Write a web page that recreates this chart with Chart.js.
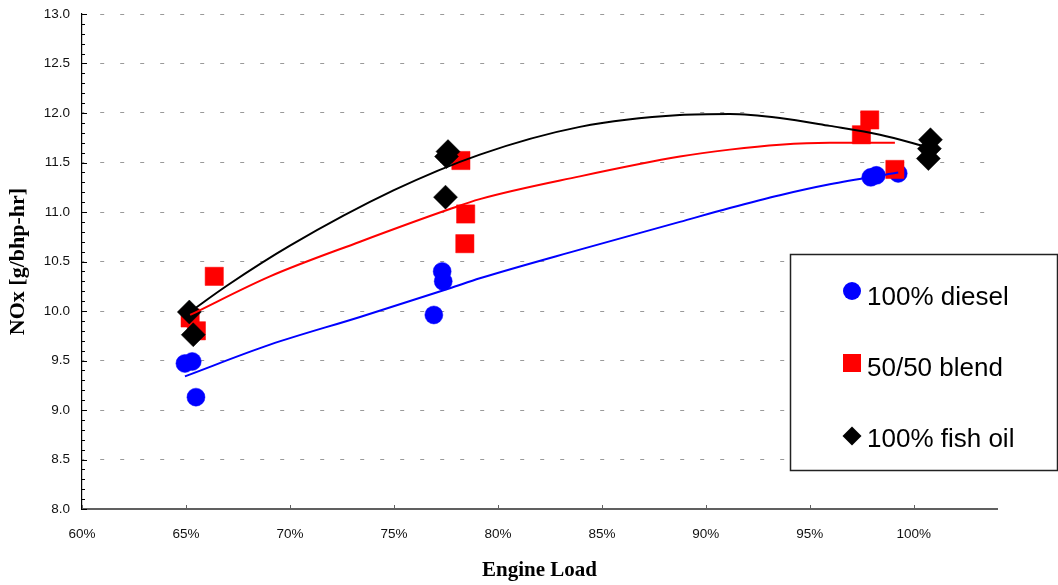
<!DOCTYPE html>
<html><head><meta charset="utf-8">
<script src="https://cdn.jsdelivr.net/npm/chart.js@4.4.0/dist/chart.umd.min.js"></script>
<style>html,body{margin:0;padding:0;background:#fff;}#wrap{width:1058px;height:585px;position:relative;}</style>
</head><body><div id="wrap"><canvas id="c" width="1058" height="585"></canvas></div>
<script>
const seriesLabels = ['100% diesel', '50/50 blend', '100% fish oil'];
const seriesColors = ['#0000FF', '#FF0000', '#000000'];

const dieselLoad = [64.95, 65.3, 65.48, 76.92, 77.32, 77.37, 97.93, 98.2, 99.25];
const dieselNOx  = [9.47, 9.49, 9.13, 9.96, 10.40, 10.30, 11.35, 11.37, 11.39];
const blendLoad  = [66.36, 65.2, 65.5, 78.22, 78.45, 78.41, 97.48, 97.88, 99.09];
const blendNOx   = [10.35, 9.93, 9.80, 11.52, 10.98, 10.68, 11.78, 11.93, 11.43];
const fishLoad   = [65.16, 65.35, 77.6, 77.53, 77.48, 100.8, 100.7, 100.75];
const fishNOx    = [9.99, 9.76, 11.61, 11.56, 11.15, 11.73, 11.54, 11.64];

// trend lines
const dieselTrendLoad = [64.95, 69.04, 73.37, 77.69, 79.13, 83.94, 88.75, 91.15, 93.56, 95.96, 99.25];
const dieselTrendNOx  = [9.34, 9.66, 9.94, 10.23, 10.33, 10.62, 10.90, 11.04, 11.17, 11.28, 11.40];
const blendTrendLoad  = [65.2, 69.04, 73.37, 77.69, 79.13, 83.94, 88.75, 91.15, 93.56, 95.96, 99.09];
const blendTrendNOx   = [9.96, 10.35, 10.70, 11.03, 11.13, 11.36, 11.56, 11.63, 11.68, 11.70, 11.70];
const fishTrendLoad   = [65.19, 67.0, 70.0, 75.0, 79.13, 83.94, 88.75, 91.15, 93.56, 95.96, 98.37, 100.77];
const fishTrendNOx    = [9.99, 10.26, 10.66, 11.22, 11.58, 11.86, 11.98, 11.99, 11.95, 11.87, 11.78, 11.65];

const xTicks = [60, 65, 70, 75, 80, 85, 90, 95, 100];
const yTicks = [8.0, 8.5, 9.0, 9.5, 10.0, 10.5, 11.0, 11.5, 12.0, 12.5, 13.0];
const xTitle = 'Engine Load';
const yTitle = 'NOx [g/bhp-hr]';

const pts = (xs, ys) => xs.map((x, i) => ({x: x, y: ys[i]}));

const markerDs = (i, xs, ys, style, r, order) => ({
  label: seriesLabels[i], data: pts(xs, ys), showLine: false,
  pointStyle: style, pointRadius: r, pointBackgroundColor: seriesColors[i],
  pointBorderColor: seriesColors[i], pointBorderWidth: 0.5, order: order
});
const trendDs = (i, xs, ys) => ({
  label: seriesLabels[i] + ' trend', data: pts(xs, ys), showLine: true,
  borderColor: seriesColors[i], borderWidth: 2, pointRadius: 0, tension: 0.4,
  cubicInterpolationMode: 'monotone', fill: false, order: 0
});

const innerTicks = {
  id: 'innerTicks',
  afterDraw(chart) {
    const ctx = chart.ctx, xs = chart.scales.x, ys = chart.scales.y;
    const left = chart.chartArea.left, bottom = chart.chartArea.bottom;
    ctx.save();
    ctx.strokeStyle = '#000'; ctx.lineWidth = 1;
    for (let k = 80; k <= 130; k++) {
      const v = k / 10;
      const py = Math.round(ys.getPixelForValue(v)) + 0.5;
      const len = (k % 5 === 0) ? 5 : 3;
      ctx.beginPath(); ctx.moveTo(left, py); ctx.lineTo(left + len, py); ctx.stroke();
    }
    ctx.strokeStyle = '#606060'; ctx.lineWidth = 1;
    xTicks.forEach(v => {
      const px = Math.round(xs.getPixelForValue(v)) + 0.5;
      ctx.beginPath(); ctx.moveTo(px, bottom); ctx.lineTo(px, bottom - 4); ctx.stroke();
    });
    ctx.restore();
  }
};

const boxLegend = {
  id: 'boxLegend',
  afterDraw(chart) {
    const ctx = chart.ctx;
    ctx.save();
    ctx.fillStyle = '#fff';
    ctx.fillRect(790, 254, 268, 216);
    ctx.strokeStyle = '#222'; ctx.lineWidth = 1.5;
    ctx.strokeRect(790.5, 254.5, 267, 216);
    const rows = [{cy: 291, base: 305}, {cy: 363, base: 376}, {cy: 436, base: 447}];
    const styles = ['circle', 'rect', 'rectRot'];
    ctx.font = '26px "Liberation Sans", Arial, sans-serif';
    ctx.textBaseline = 'alphabetic';
    rows.forEach((r, i) => {
      ctx.fillStyle = seriesColors[i];
      ctx.beginPath();
      if (styles[i] === 'circle') { ctx.arc(852, r.cy, 9, 0, Math.PI * 2); }
      else if (styles[i] === 'rect') { ctx.rect(843, r.cy - 9, 18, 18); }
      else { ctx.moveTo(852, r.cy - 9.5); ctx.lineTo(861.5, r.cy); ctx.lineTo(852, r.cy + 9.5); ctx.lineTo(842.5, r.cy); ctx.closePath(); }
      ctx.fill();
      ctx.fillStyle = '#000';
      ctx.fillText(seriesLabels[i], 867, r.base);
    });
    ctx.restore();
  }
};

new Chart(document.getElementById('c'), {
  type: 'scatter',
  data: {
    datasets: [
      trendDs(0, dieselTrendLoad, dieselTrendNOx),
      trendDs(1, blendTrendLoad, blendTrendNOx),
      trendDs(2, fishTrendLoad, fishTrendNOx),
      markerDs(2, fishLoad, fishNOx, 'rectRot', 12, 3),
      markerDs(1, blendLoad, blendNOx, 'rect', 12.9, 4),
      markerDs(0, dieselLoad, dieselNOx, 'circle', 9, 5)
    ]
  },
  options: {
    responsive: false, animation: false, events: [],
    layout: {padding: {left: 0, top: 14, right: 61, bottom: 0}},
    plugins: {legend: {display: false}, tooltip: {enabled: false}},
    scales: {
      x: {
        type: 'linear', min: 60, max: 104,
        afterBuildTicks: s => { s.ticks = xTicks.map(v => ({value: v})); },
        afterFit: s => { s.height = 76; s.paddingLeft = 0; s.paddingRight = 0; },
        ticks: {callback: v => v + '%', color: '#111', padding: 17, maxRotation: 0, autoSkip: false,
                font: {family: '"Liberation Sans", Arial, sans-serif', size: 13.5}},
        grid: {display: false, drawTicks: false},
        border: {display: true, color: '#606060', width: 2},
        title: {display: true, text: xTitle, color: '#000', padding: {top: 0, bottom: 2},
                font: {family: '"Liberation Serif", "Times New Roman", serif', size: 21, weight: 'bold'}}
      },
      y: {
        type: 'linear', min: 8, max: 13,
        afterBuildTicks: s => { s.ticks = yTicks.map(v => ({value: v})); },
        afterFit: s => { s.width = 82; s.paddingTop = 0; s.paddingBottom = 0; },
        ticks: {callback: v => v.toFixed(1), color: '#111', padding: 12, autoSkip: false,
                font: {family: '"Liberation Sans", Arial, sans-serif', size: 13.5}},
        grid: {display: true, drawTicks: false, color: '#9a9a9a', lineWidth: 1},
        border: {display: true, color: '#000', width: 1.2, dash: [4, 16], dashOffset: 2},
        title: {display: true, text: yTitle, color: '#000', padding: {top: 5, bottom: 0},
                font: {family: '"Liberation Serif", "Times New Roman", serif', size: 22, weight: 'bold'}}
      }
    }
  },
  plugins: [innerTicks, boxLegend]
});
</script>
</body></html>
